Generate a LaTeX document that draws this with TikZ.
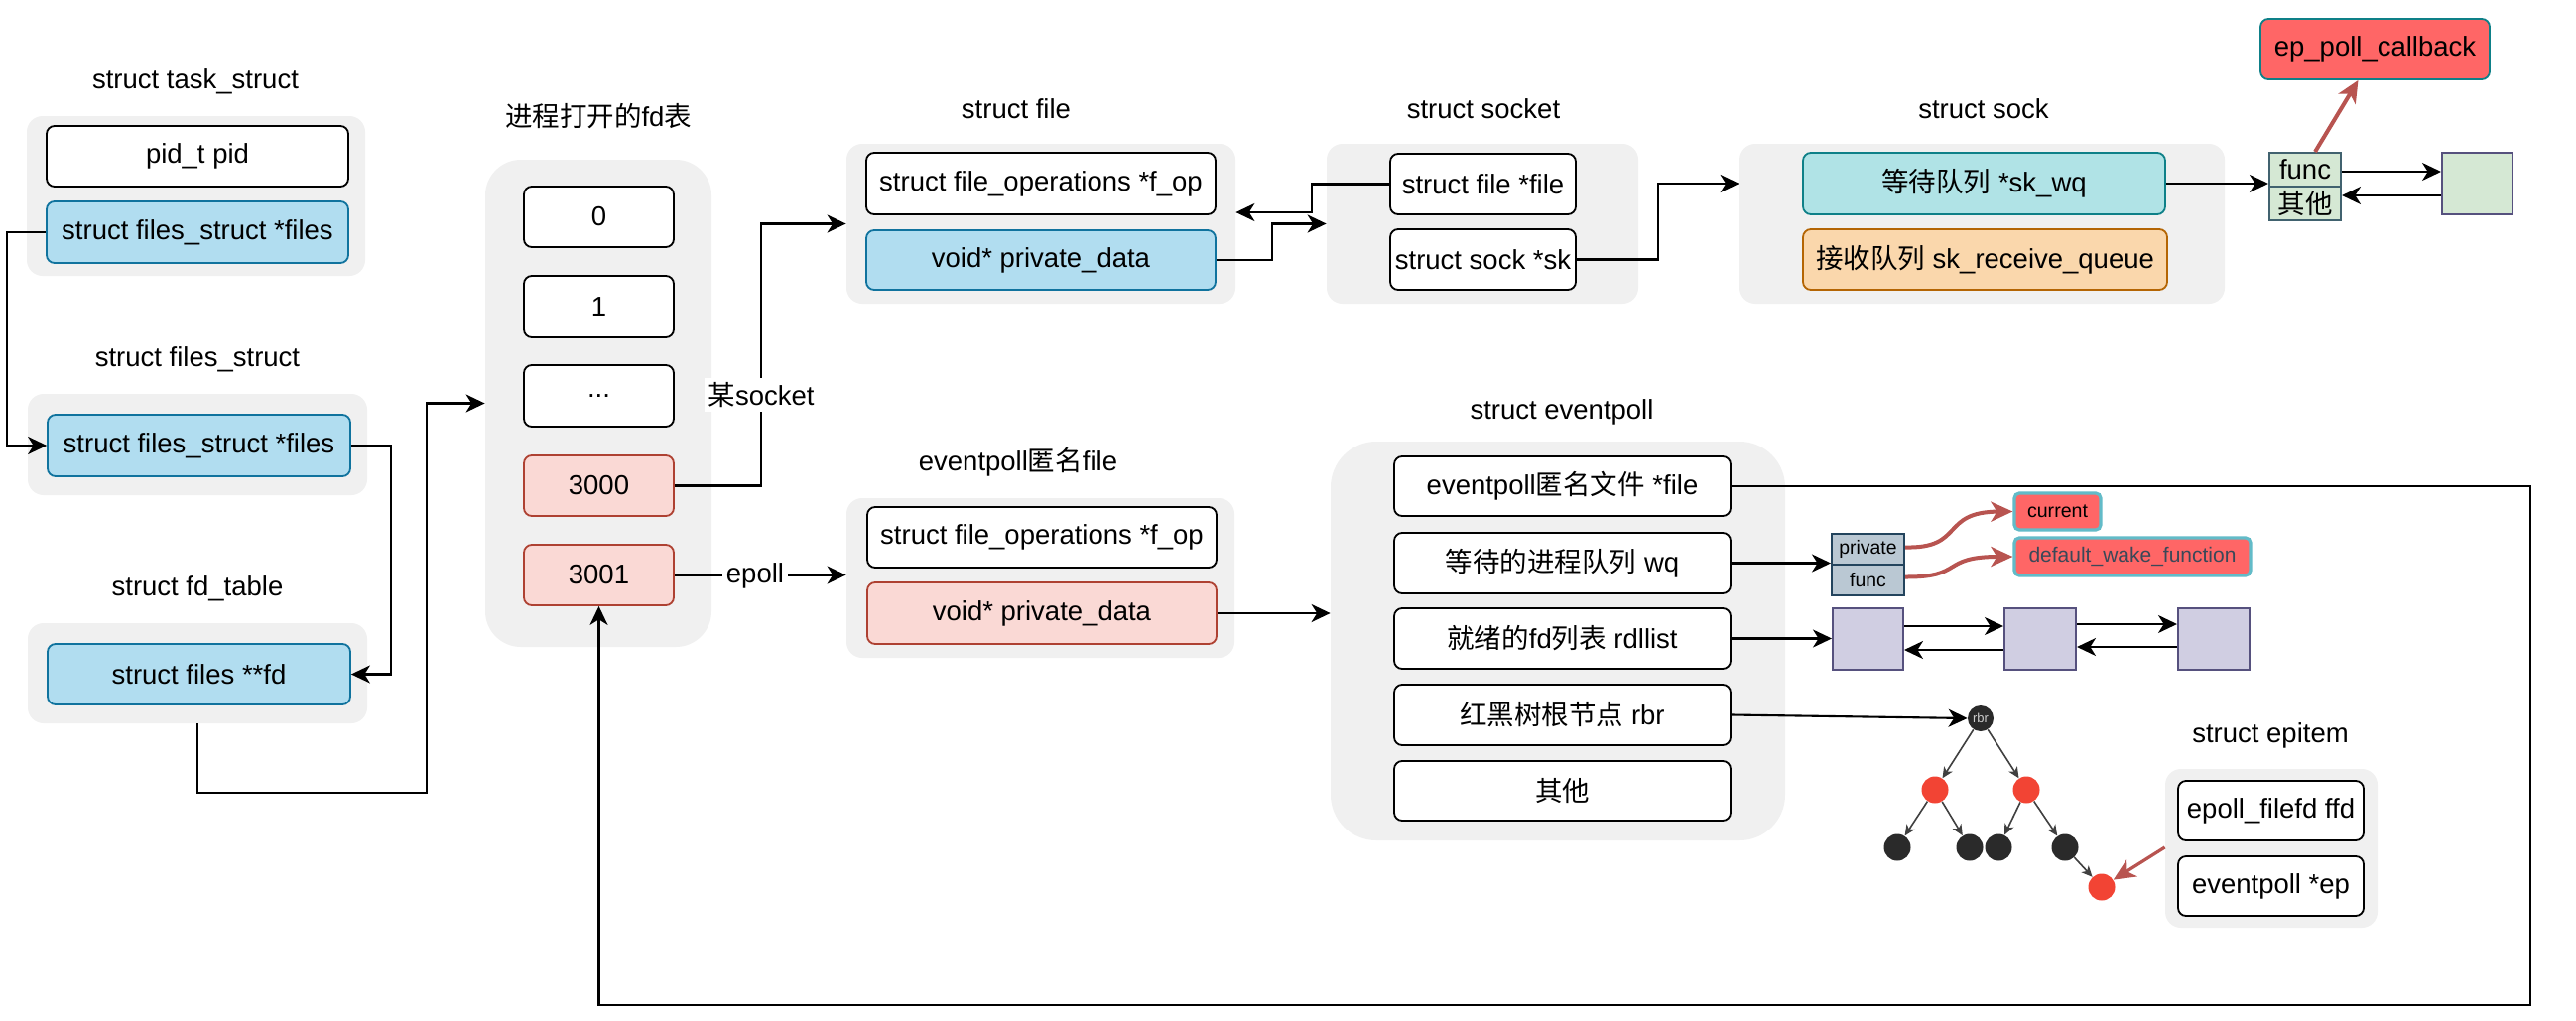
\documentclass[tikz,border=0pt]{standalone}
\usepackage{fontspec}
\setmainfont{Liberation Sans}
\newfontfamily\cjkfont{Noto Sans CJK SC}
\newcommand\zh[1]{{\cjkfont #1}}
\newcommand\mainsz{\fontsize{13.75pt}{16pt}\selectfont}
\usetikzlibrary{arrows.meta,calc}
\definecolor{cgray}{HTML}{F0F0F0}
\definecolor{blueF}{HTML}{B1DDF0}
\definecolor{blueS}{HTML}{10739E}
\definecolor{pinkF}{HTML}{FAD9D5}
\definecolor{pinkS}{HTML}{AE4132}
\definecolor{tealF}{HTML}{B0E3E6}
\definecolor{tealS}{HTML}{0E8088}
\definecolor{orF}{HTML}{FAD7AC}
\definecolor{orS}{HTML}{B46504}
\definecolor{grF}{HTML}{D5E8D4}
\definecolor{grS}{HTML}{41626F}
\definecolor{purS}{HTML}{56517E}
\definecolor{lavF}{HTML}{D0CEE2}
\definecolor{pfF}{HTML}{BAC8D3}
\definecolor{pfS}{HTML}{23445D}
\definecolor{hotF}{HTML}{FF6666}
\definecolor{hotS}{HTML}{62BBC8}
\definecolor{redA}{HTML}{B85450}
\definecolor{dwfT}{HTML}{3A4858}
\definecolor{treeR}{HTML}{F24434}
\definecolor{treeB}{HTML}{2A2A2A}
\definecolor{treeA}{HTML}{404040}
% box by corners (in 0.5pt units): style, name, x1, y1, x2, y2, text
\newcommand\bx[7]{%
  \pgfmathsetmacro\bxw{(#5-#3)*0.5}%
  \pgfmathsetmacro\bxh{(#6-#4)*0.5}%
  \node[#1, minimum width=\bxw pt, minimum height=\bxh pt] (#2) at ({(#3+#5)/2},{(#4+#6)/2}) {#7};}
\tikzset{
  every node/.style={font=\mainsz},
  cont/.style={fill=cgray, draw=none, rounded corners=8pt, inner sep=0pt},
  wbox/.style={draw=black, fill=white, line width=0.9pt, rounded corners=4pt, inner sep=0pt},
  bluebox/.style={wbox, draw=blueS, fill=blueF},
  pinkbox/.style={wbox, draw=pinkS, fill=pinkF},
  tealbox/.style={wbox, draw=tealS, fill=tealF},
  orangebox/.style={wbox, draw=orS, fill=orF},
  fbox/.style={draw=grS, fill=grF, line width=1pt, inner sep=0pt},
  greenbox/.style={draw=purS, fill=grF, line width=1pt, inner sep=0pt},
  lavbox/.style={draw=purS, fill=lavF, line width=1pt, inner sep=0pt},
  pfbox/.style={draw=pfS, fill=pfF, line width=1pt, inner sep=0pt, font=\fontsize{9.7pt}{11pt}\selectfont},
  hotbox/.style={draw=hotS, fill=hotF, line width=1.6pt, rounded corners=2.5pt, inner sep=0pt},
  cbbox/.style={draw=tealS, fill=hotF, line width=0.9pt, rounded corners=4pt, inner sep=0pt},
  lbl/.style={inner sep=1pt},
  arr/.style={draw=black, line width=1.05pt, -{Stealth[length=9.5pt,width=9pt,inset=2.8pt]}},
  redarr/.style={draw=redA, line width=2pt, -{Stealth[length=11pt,width=10pt,inset=3pt]}},
  tarr/.style={draw=treeA, line width=0.8pt, -{Stealth[length=5.5pt,width=5pt,inset=1.5pt]}},
  rnode/.style={circle, fill=treeR, draw=none, minimum size=13.5pt, inner sep=0pt},
  bnode/.style={circle, fill=treeB, draw=none, minimum size=13.5pt, inner sep=0pt},
}
\begin{document}
\begin{tikzpicture}[x=0.5pt, y=-0.5pt]
\useasboundingbox (0,0) rectangle (2596,1028);
\fill[white] (0,0) rectangle (2596,1028);

% ---------- left column ----------
\node[lbl] (ltask) at (197,82) {struct task\_struct};
\bx{cont}{taskg}{27}{117}{368}{278}{}
\bx{wbox}{pid}{47}{127}{351}{188}{pid\_t pid}
\bx{bluebox}{files1}{47}{203}{351}{265}{struct files\_struct *files}

\node[lbl] (lfs) at (199,362) {struct files\_struct};
\bx{cont}{fsg}{28}{397}{370}{499}{}
\bx{bluebox}{files2}{48}{418}{353}{480}{struct files\_struct *files}

\node[lbl] (lfdt) at (199,593) {struct fd\_table};
\bx{cont}{fdtg}{28}{628}{370}{729}{}
\bx{bluebox}{fdptr}{48}{649}{353}{710}{struct files **fd}

% ---------- fd table ----------
\node[lbl] (lfd) at (603,117) {\zh{进程打开的}fd\zh{表}};
\bx{cont, rounded corners=18pt}{fdg}{489}{161}{717}{652}{}
\bx{wbox}{n0}{528}{188}{679}{249}{0}
\bx{wbox}{n1}{528}{278}{679}{340}{1}
\bx{wbox}{ndots}{528}{368}{679}{430}{...}
\bx{pinkbox}{n3000}{528}{459}{679}{520}{3000}
\bx{pinkbox}{n3001}{528}{549}{679}{610}{3001}

% ---------- struct file ----------
\node[lbl] (lfile) at (1024,110) {struct file};
\bx{cont}{fileg}{853}{145}{1245}{306}{}
\bx{wbox}{fop1}{873}{154}{1225}{216}{struct file\_operations *f\_op}
\bx{bluebox}{priv1}{873}{232}{1225}{292}{void* private\_data}

% ---------- struct socket ----------
\node[lbl] (lsocket) at (1495,110) {struct socket};
\bx{cont}{socketg}{1337}{145}{1651}{306}{}
\bx{wbox}{sfile}{1401}{155}{1588}{216}{struct file *file}
\bx{wbox}{ssk}{1401}{231}{1588}{292}{struct sock *sk}

% ---------- struct sock ----------
\node[lbl] (lsock) at (1999,110) {struct sock};
\bx{cont}{skg}{1753}{145}{2242}{306}{}
\bx{tealbox}{skwq}{1817}{154}{2182}{216}{\zh{等待队列} *sk\_wq}
\bx{orangebox}{skrq}{1817}{231}{2184}{292}{\zh{接收队列} sk\_receive\_queue}

\bx{fbox}{ffunc}{2287}{154}{2359}{188}{func}
\bx{fbox}{fother}{2287}{188}{2359}{222}{\zh{其他}}
\bx{greenbox}{gbox}{2461}{154}{2532}{216}{}
\bx{cbbox}{epcb}{2278}{19}{2509}{80}{ep\_poll\_callback}

% ---------- eventpoll anon file ----------
\node[lbl] (lanon) at (1026,466) {eventpoll\zh{匿名}file};
\bx{cont}{anong}{853}{502}{1244}{663}{}
\bx{wbox}{fop2}{874}{511}{1226}{572}{struct file\_operations *f\_op}
\bx{pinkbox}{priv2}{874}{587}{1226}{649}{void* private\_data}

% ---------- struct eventpoll ----------
\node[lbl] (lep) at (1574,415) {struct eventpoll};
\bx{cont, rounded corners=23pt}{epg}{1341}{445}{1799}{847}{}
\bx{wbox}{epfile}{1405}{460}{1744}{520}{eventpoll\zh{匿名文件} *file}
\bx{wbox}{epwq}{1405}{537}{1744}{598}{\zh{等待的进程队列} wq}
\bx{wbox}{eprdl}{1405}{613}{1744}{674}{\zh{就绪的}fd\zh{列表} rdllist}
\bx{wbox}{eprbr}{1405}{690}{1744}{751}{\zh{红黑树根节点} rbr}
\bx{wbox}{epother}{1405}{767}{1744}{827}{\zh{其他}}

% wait queue entry
\bx{pfbox}{pprivate}{1846}{538}{1919}{569}{private}
\bx{pfbox}{pfunc}{1846}{569}{1919}{600}{func}
\bx{hotbox, font=\fontsize{9.8pt}{11pt}\selectfont}{cur}{2030}{497}{2117}{534}{current}
\bx{hotbox, font=\fontsize{10.5pt}{12pt}\selectfont, text=dwfT}{dwf}{2030}{542}{2268}{580}{default\_wake\_function}

% ready list
\bx{lavbox}{lb1}{1847}{613}{1918}{675}{}
\bx{lavbox}{lb2}{2020}{613}{2092}{675}{}
\bx{lavbox}{lb3}{2195}{613}{2267}{675}{}

% rb tree
\node[bnode, minimum size=13pt, text=gray!40, font=\fontsize{6.5pt}{7pt}\selectfont] (rbrn) at (1996,724) {rbr};
\node[rnode] (t1) at (1950,796) {};
\node[rnode] (t2) at (2042,796) {};
\node[bnode] (t3) at (1912,854) {};
\node[bnode] (t4) at (1985,854) {};
\node[bnode] (t5) at (2014,854) {};
\node[bnode] (t6) at (2081,854) {};
\node[rnode] (t7) at (2118,894) {};

% epitem
\node[lbl] (lepi) at (2288,741) {struct epitem};
\bx{cont}{epig}{2182}{775}{2396}{935}{}
\bx{wbox}{ffd}{2195}{787}{2382}{847}{epoll\_filefd ffd}
\bx{wbox}{epp}{2195}{863}{2382}{923}{eventpoll *ep}

% ---------- connectors ----------
\draw[arr] (files1.west) -- ++(-39,0) |- (files2.west);
\draw[arr] (files2.east) -- ++(40,0) |- (fdptr.east);
\coordinate (k3) at (430,799);
\draw[arr] (fdtg.south) |- (k3) |- (fdg.west);
\coordinate (k4) at (767,0);
\draw[arr] (n3000.east) -| (k4 |- fileg.west) -- (fileg.west);
\draw[arr] (n3001.east) -- (n3001.east -| anong.west);
\coordinate (k6) at (1322,214);
\draw[arr] (sfile.west) -| (k6) -- (k6 -| fileg.east);
\draw[arr] (priv1.east) -- ++(56,0) |- (socketg.west);
\draw[arr] (ssk.east) -- ++(82,0) |- (skg.west |- skwq.west);
\draw[arr] (skwq.east) -- (skwq.east -| ffunc.west);
\draw[arr] ($(ffunc.east)+(0,2)$) -- ($(ffunc.east -| gbox.west)+(0,2)$);
\draw[arr] ($(gbox.west)+(0,12)$) -- ($(gbox.west -| fother.east)+(0,12)$);
\draw[redarr] ($(ffunc.north)+(10,0)$) -- ($(epcb.south)+(-17,0)$);

\draw[arr] (priv2.east) -- (priv2.east -| epg.west);
\coordinate (kloop) at (2550,1013);
\draw[arr] (epfile.east) -| (kloop) -| (n3001.south);
\draw[arr] (epwq.east) -- (epwq.east -| pprivate.west);
\draw[arr] (eprdl.east) -- (eprdl.east -| lb1.west);
\draw[arr] (eprbr.east) -- (rbrn.west);

\draw[arr] ($(lb1.north east)+(0,19)$) -- ($(lb2.north west)+(0,19)$);
\draw[arr] ($(lb2.north west)+(0,43)$) -- ($(lb1.north east)+(0,43)$);
\draw[arr] ($(lb2.north east)+(0,17)$) -- ($(lb3.north west)+(0,17)$);
\draw[arr] ($(lb3.north west)+(0,40)$) -- ($(lb2.north east)+(0,40)$);

\draw[redarr] ($(pprivate.east)+(0,-2)$) .. controls (1980,553) and (1955,516) .. (cur.west);
\draw[redarr] ($(pfunc.east)+(0,-3)$) .. controls (1980,582) and (1955,561) .. (dwf.west);

\draw[tarr] (rbrn) -- (t1);
\draw[tarr] (rbrn) -- (t2);
\draw[tarr] (t1) -- (t3);
\draw[tarr] (t1) -- (t4);
\draw[tarr] (t2) -- (t5);
\draw[tarr] (t2) -- (t6);
\draw[tarr] (t6) -- (t7);
\draw[redarr, line width=1.6pt] ($(epig.west)+(0,-1)$) -- (t7);

% connector labels
\node[lbl, fill=white, inner sep=2pt] (lsk) at (767,398) {\zh{某}socket};
\node[lbl, fill=white, inner sep=2pt] (lepoll) at (761,580) {epoll};
\end{tikzpicture}
\end{document}
